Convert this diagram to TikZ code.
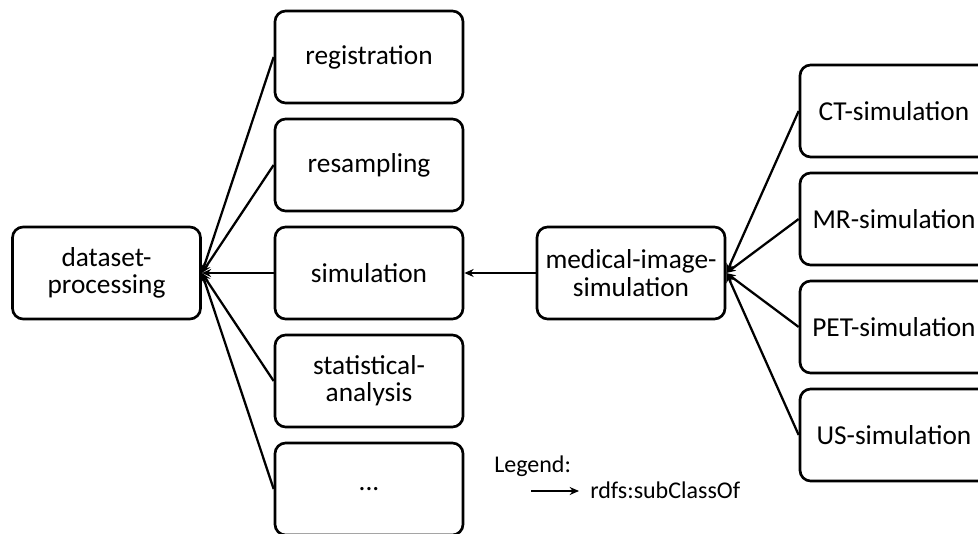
\documentclass[tikz,border=0pt]{standalone}
\usepackage{fontspec}
\setmainfont{Carlito}
\usetikzlibrary{arrows.meta}
\begin{document}
\begin{tikzpicture}[x=0.75pt,y=-0.75pt,
  box/.style={draw=black, line width=2pt, rounded corners=8pt, fill=white,
    minimum width=141pt, minimum height=69pt, inner sep=0pt, align=center,
    font=\fontsize{20.5}{20.5}\selectfont},
  arr/.style={line width=1.7pt, -{Stealth[length=7pt,width=6pt]}},
  legtext/.style={font=\fontsize{18}{20}\selectfont, inner sep=0pt, anchor=base west}]
\useasboundingbox (0,0) rectangle (978,534);
\clip (0,0) rectangle (978,534);
\node[box] (dp) at (106.5,273) {dataset-\\processing};
\node[box] (reg) at (369,57) {registration};
\node[box] (res) at (369,165) {resampling};
\node[box] (sim) at (369,273) {simulation};
\node[box] (stat) at (369,381) {statistical-\\analysis};
\node[box] (dots) at (369,489) {...};
\node[box] (mis) at (631,273) {medical-image-\\simulation};
\node[box] (ct) at (894,111) {CT-simulation};
\node[box] (mr) at (894,219) {MR-simulation};
\node[box] (pet) at (894,327) {PET-simulation};
\node[box] (us) at (894,435) {US-simulation};
\foreach \n in {reg,res,sim,stat,dots} \draw[arr] (\n.west) -- (dp.east);
\foreach \n in {ct,mr,pet,us} \draw[arr] (\n.west) -- (mis.east);
\draw[arr] (mis.west) -- (sim.east);
\node[legtext] (leg) at (494,472) {Legend:};
\coordinate (la) at (531,491);
\coordinate (lb) at (579,491);
\draw[arr] (la) -- (lb);
\node[legtext] (rdfs) at (590,498) {rdfs:subClassOf};
\end{tikzpicture}
\end{document}
